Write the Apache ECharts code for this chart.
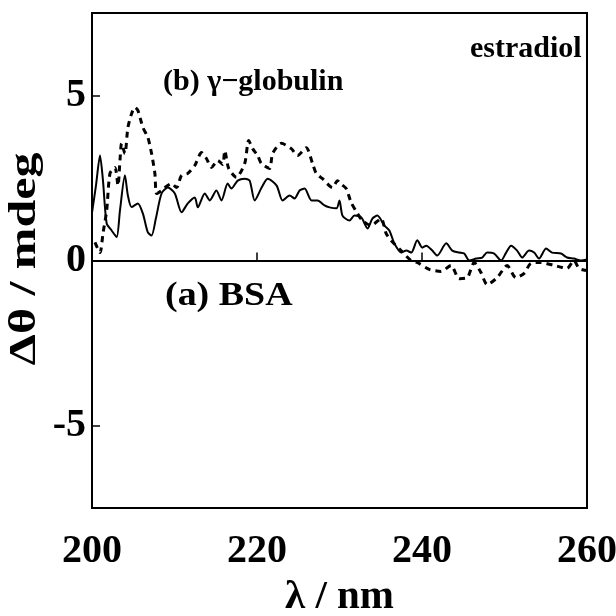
<!DOCTYPE html>
<html>
<head>
<meta charset="utf-8">
<script src="https://cdn.jsdelivr.net/npm/echarts@6/dist/echarts.min.js"></script>
<style>
  html, body { margin: 0; padding: 0; background: #fff; }
  #chart { width: 616px; height: 616px; }
</style>
</head>
<body>
<div id="chart"></div>
<script>
// Induced CD difference spectra of estradiol bound to two proteins
const xTicks = [200, 220, 240, 260];
const yTicks = [-5, 0, 5];

// (a) BSA — solid trace
const bsaWavelength = [200.0, 200.48, 200.97, 201.33, 201.78, 202.38, 202.99, 203.39, 203.99, 204.35, 204.80, 205.56, 206.17, 206.77, 207.22, 207.74, 208.43, 209.19, 210.04, 210.85, 211.61, 212.46, 212.82, 213.67, 214.27, 215.08, 215.69, 216.45, 216.90, 217.66, 218.51, 219.11, 219.72, 220.56, 221.29, 222.38, 223.10, 223.95, 224.56, 225.16, 225.77, 226.61, 227.34, 228.18, 228.79, 229.64, 230.00, 230.36, 231.21, 231.81, 232.66, 233.39, 233.99, 234.59, 235.44, 236.04, 236.65, 237.49, 238.10, 238.70, 239.43, 240.04, 240.52, 241.25, 241.85, 242.94, 243.67, 244.51, 245.12, 245.72, 246.57, 247.30, 247.90, 248.75, 249.59, 250.20, 250.80, 251.53, 252.14, 252.98, 253.59, 254.19, 255.04, 255.76, 256.85, 257.58, 258.42, 259.27, 260.0];
const bsaSignal = [1.45, 2.27, 3.18, 2.42, 1.12, 0.91, 0.71, 1.52, 2.58, 1.97, 1.62, 1.73, 1.42, 0.85, 0.76, 1.27, 2.03, 2.21, 2.03, 1.46, 1.73, 1.91, 1.61, 2.03, 1.82, 2.12, 1.82, 2.33, 2.18, 2.42, 2.48, 2.42, 1.82, 2.21, 2.48, 2.27, 1.82, 1.97, 1.88, 2.12, 2.18, 1.82, 1.82, 1.67, 1.61, 1.58, 1.82, 1.36, 1.21, 1.36, 1.30, 0.97, 1.27, 1.36, 1.06, 0.91, 0.52, 0.24, 0.30, 0.24, 0.61, 0.39, 0.45, 0.30, 0.15, 0.52, 0.30, 0.24, 0.21, 0.0, 0.06, 0.09, 0.24, 0.21, 0.0, 0.24, 0.45, 0.30, 0.09, 0.30, 0.24, 0.06, 0.36, 0.24, 0.21, 0.09, 0.06, 0.0, 0.03];

// (b) γ-globulin — dashed trace
const globWavelength = [200.36, 200.97, 201.33, 201.78, 202.18, 202.78, 203.15, 203.39, 203.59, 203.99, 204.35, 204.80, 205.20, 205.56, 206.17, 206.77, 207.22, 207.62, 207.83, 208.43, 208.83, 209.64, 210.25, 210.85, 211.61, 212.46, 213.27, 213.87, 214.48, 215.24, 215.85, 216.09, 216.57, 217.50, 218.51, 218.99, 219.47, 220.08, 220.53, 221.53, 221.89, 222.95, 224.16, 224.92, 225.97, 226.73, 227.18, 227.94, 229.15, 229.76, 230.12, 230.81, 231.41, 232.18, 232.78, 233.83, 235.04, 235.65, 236.25, 237.46, 238.67, 239.43, 240.89, 242.30, 243.51, 244.51, 245.48, 246.33, 247.14, 247.90, 249.11, 250.32, 251.37, 252.38, 253.19, 254.40, 256.01, 256.98, 257.58, 258.42, 259.03, 259.88];
const globSignal = [0.55, 0.24, 0.82, 1.52, 2.64, 2.82, 2.27, 3.03, 3.55, 3.24, 4.03, 4.45, 4.64, 4.55, 4.03, 3.73, 3.24, 2.64, 2.03, 2.12, 2.21, 2.33, 2.21, 2.58, 2.64, 2.88, 3.27, 3.09, 2.82, 3.03, 2.91, 3.33, 2.79, 2.52, 2.94, 3.64, 3.39, 3.18, 2.94, 2.79, 3.24, 3.55, 3.39, 3.18, 3.42, 2.94, 2.64, 2.48, 2.21, 2.42, 2.33, 2.18, 1.76, 1.42, 1.21, 1.06, 1.27, 0.82, 0.61, 0.30, 0.0, -0.06, -0.27, -0.33, -0.15, -0.55, -0.52, -0.06, -0.36, -0.73, -0.52, -0.15, -0.52, -0.39, -0.09, -0.06, -0.15, -0.21, -0.24, 0.0, -0.24, -0.30];

const pair = (xs, ys) => xs.map((x, i) => [x, ys[i]]);
const serif = '"Liberation Serif", "DejaVu Serif", serif';

const chart = echarts.init(document.getElementById('chart'));
chart.setOption({
  animation: false,
  backgroundColor: '#fff',
  grid: {
    left: 92, right: 29, top: 13, bottom: 108,
    outerBoundsMode: 'none', containLabel: false,
    show: true, borderColor: '#000', borderWidth: 2, backgroundColor: 'transparent'
  },
  xAxis: {
    type: 'value', min: 200, max: 260, interval: 20,
    name: 'λ / nm', nameLocation: 'middle', nameGap: 57,
    nameTextStyle: { fontFamily: serif, fontWeight: 'bold', fontSize: 41, color: '#000' },
    axisLine: { show: true, lineStyle: { color: '#000', width: 2 } },
    axisTick: { show: true, inside: true, length: 8, lineStyle: { color: '#000', width: 1.5 }, customValues: xTicks },
    axisLabel: { margin: 24, fontFamily: serif, fontWeight: 'bold', fontSize: 40, color: '#000', customValues: xTicks },
    splitLine: { show: false }
  },
  yAxis: {
    type: 'value', min: -7.5, max: 7.5,
    axisLine: { show: true, lineStyle: { color: '#000', width: 2 } },
    axisTick: { show: true, inside: true, length: 8, lineStyle: { color: '#000', width: 1.5 }, customValues: yTicks },
    axisLabel: { margin: 6, fontFamily: serif, fontWeight: 'bold', fontSize: 40, color: '#000', customValues: yTicks },
    splitLine: { show: false }
  },
  series: [
    {
      name: '(a) BSA', type: 'line', data: pair(bsaWavelength, bsaSignal),
      symbol: 'none', smooth: 0.25,
      lineStyle: { color: '#000', width: 2 },
      markLine: {
        silent: true, symbol: 'none', label: { show: false },
        lineStyle: { color: '#000', width: 2, type: 'solid' },
        data: [{ yAxis: 0 }]
      }
    },
    {
      name: '(b) γ−globulin', type: 'line', data: pair(globWavelength, globSignal),
      symbol: 'none', smooth: 0.25,
      lineStyle: { color: '#000', width: 3, type: [6, 5] }
    }
  ],
  graphic: [
    {
      type: 'text', x: 25, y: 259, rotation: Math.PI / 2, scaleX: 1.35,
      style: { text: 'Δθ / mdeg', font: 'bold 37px ' + serif, fill: '#000', align: 'center', verticalAlign: 'middle' }
    },
    { type: 'text', left: 470, top: 34, style: { text: 'estradiol', font: 'bold 30px ' + serif, fill: '#000' } },
    { type: 'text', left: 163, top: 67, style: { text: '(b) γ−globulin', font: 'bold 30px ' + serif, fill: '#000' } },
    {
      type: 'text', x: 165, y: 280, scaleX: 1.15,
      style: { text: '(a) BSA', font: 'bold 33px ' + serif, fill: '#000' }
    }
  ]
});
</script>
</body>
</html>
